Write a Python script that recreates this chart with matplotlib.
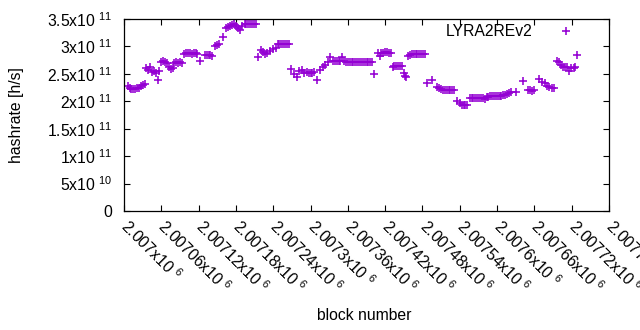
import matplotlib
matplotlib.use('Agg')
import matplotlib.pyplot as plt
import numpy as np
from matplotlib.ticker import FixedLocator, FixedFormatter

plt.rcParams['font.family'] = ['Liberation Sans', 'DejaVu Sans']
plt.rcParams['mathtext.fontset'] = 'custom'
plt.rcParams['mathtext.rm'] = 'Liberation Sans'
plt.rcParams['mathtext.it'] = 'Liberation Sans:italic'
plt.rcParams['mathtext.default'] = 'regular'

series_name = 'LYRA2REv2'

block_number = [
    2007006, 2007009, 2007012, 2007015, 2007018, 2007021, 2007024, 2007027, 2007030, 2007033,
    2007036, 2007039, 2007042, 2007045, 2007048, 2007051, 2007054, 2007057, 2007060, 2007063,
    2007066, 2007069, 2007072, 2007075, 2007078, 2007081, 2007084, 2007087, 2007090, 2007093,
    2007097, 2007100, 2007103, 2007106, 2007109, 2007112, 2007115, 2007118, 2007123, 2007130,
    2007133, 2007136, 2007139, 2007142, 2007147, 2007150, 2007153, 2007159, 2007164, 2007168,
    2007171, 2007174, 2007177, 2007180, 2007183, 2007186, 2007190, 2007194, 2007197, 2007200,
    2007203, 2007206, 2007209, 2007212, 2007215, 2007221, 2007224, 2007227, 2007230, 2007235,
    2007239, 2007244, 2007247, 2007250, 2007253, 2007256, 2007259, 2007262, 2007265, 2007269,
    2007274, 2007278, 2007282, 2007286, 2007290, 2007294, 2007297, 2007300, 2007303, 2007306,
    2007310, 2007316, 2007320, 2007324, 2007328, 2007331, 2007336, 2007339, 2007342, 2007345,
    2007348, 2007351, 2007354, 2007357, 2007360, 2007363, 2007366, 2007369, 2007372, 2007375,
    2007378, 2007381, 2007384, 2007387, 2007390, 2007393, 2007396, 2007399, 2007402, 2007408,
    2007411, 2007414, 2007417, 2007420, 2007423, 2007426, 2007429, 2007432, 2007435, 2007438,
    2007441, 2007444, 2007447, 2007451, 2007452, 2007453, 2007457, 2007460, 2007463, 2007466,
    2007469, 2007472, 2007475, 2007478, 2007481, 2007484, 2007488, 2007495, 2007503, 2007507,
    2007510, 2007513, 2007516, 2007519, 2007522, 2007525, 2007528, 2007531, 2007535, 2007540,
    2007543, 2007546, 2007549, 2007552, 2007556, 2007559, 2007562, 2007565, 2007568, 2007571,
    2007574, 2007577, 2007580, 2007583, 2007586, 2007589, 2007592, 2007595, 2007598, 2007601,
    2007604, 2007607, 2007610, 2007613, 2007616, 2007619, 2007622, 2007631, 2007641, 2007650,
    2007653, 2007656, 2007660, 2007668, 2007673, 2007677, 2007680, 2007684, 2007688, 2007691,
    2007696, 2007700, 2007703, 2007706, 2007709, 2007712, 2007715, 2007719, 2007723, 2007726,
    2007729,
]

# hashrate in units of 1e11 h/s
hashrate_e11 = [
    2.27, 2.24, 2.23, 2.22, 2.23, 2.24, 2.25, 2.27, 2.30, 2.32,
    2.60, 2.57, 2.63, 2.53, 2.56, 2.52, 2.39, 2.55, 2.71, 2.73,
    2.72, 2.70, 2.62, 2.58, 2.60, 2.70, 2.72, 2.70, 2.71, 2.69,
    2.87, 2.88, 2.88, 2.88, 2.87, 2.88, 2.88, 2.87, 2.73, 2.84,
    2.85, 2.84, 2.84, 2.83, 3.00, 3.03, 3.05, 3.17, 3.33, 3.36,
    3.38, 3.39, 3.40, 3.38, 3.34, 3.30, 3.37, 3.40, 3.41, 3.41,
    3.41, 3.41, 3.41, 3.41, 2.81, 2.93, 2.89, 2.87, 2.88, 2.91,
    2.95, 2.98, 3.04, 3.05, 3.05, 3.05, 3.04, 3.05, 3.05, 2.58,
    2.50, 2.45, 2.55, 2.57, 2.51, 2.53, 2.52, 2.52, 2.52, 2.53,
    2.39, 2.57, 2.62, 2.66, 2.72, 2.80, 2.73, 2.74, 2.73, 2.73,
    2.74, 2.80, 2.73, 2.72, 2.72, 2.71, 2.71, 2.72, 2.71, 2.71,
    2.71, 2.71, 2.71, 2.71, 2.71, 2.71, 2.71, 2.71, 2.50, 2.88,
    2.82, 2.88, 2.88, 2.89, 2.89, 2.88, 2.88, 2.62, 2.64, 2.65,
    2.65, 2.65, 2.65, 2.52, 2.47, 2.44, 2.82, 2.84, 2.86, 2.87,
    2.87, 2.87, 2.87, 2.87, 2.87, 2.87, 2.33, 2.38, 2.26, 2.24,
    2.22, 2.21, 2.21, 2.21, 2.21, 2.21, 2.21, 2.21, 2.00, 1.96,
    1.94, 1.93, 1.93, 1.93, 2.06, 2.06, 2.06, 2.06, 2.06, 2.06,
    2.06, 2.06, 2.05, 2.07, 2.08, 2.09, 2.09, 2.09, 2.09, 2.09,
    2.09, 2.10, 2.12, 2.12, 2.14, 2.16, 2.17, 2.17, 2.37, 2.20,
    2.20, 2.19, 2.20, 2.40, 2.36, 2.33, 2.28, 2.26, 2.24, 2.24,
    2.74, 2.72, 2.66, 2.63, 2.63, 2.62, 2.55, 2.60, 2.61, 2.63,
    2.84,
]

xtick_values = [2007000, 2007060, 2007120, 2007180, 2007240, 2007300, 2007360,
                2007420, 2007480, 2007540, 2007600, 2007660, 2007720, 2007780]
xtick_labels = ['2.007x10 $^{6}$', '2.00706x10 $^{6}$', '2.00712x10 $^{6}$',
                '2.00718x10 $^{6}$', '2.00724x10 $^{6}$', '2.0073x10 $^{6}$',
                '2.00736x10 $^{6}$', '2.00742x10 $^{6}$', '2.00748x10 $^{6}$',
                '2.00754x10 $^{6}$', '2.0076x10 $^{6}$', '2.00766x10 $^{6}$',
                '2.00772x10 $^{6}$', '2.00778x10 $^{6}$']
ytick_values = [0, 5e10, 1e11, 1.5e11, 2e11, 2.5e11, 3e11, 3.5e11]
ytick_labels = ['0', '5x10 $^{10}$', '1x10 $^{11}$', '1.5x10 $^{11}$', '2x10 $^{11}$',
                '2.5x10 $^{11}$', '3x10 $^{11}$', '3.5x10 $^{11}$']

FS = 11.3
color = '#9400d3'

fig = plt.figure(figsize=(6.4, 3.3), dpi=100)
ax = fig.add_axes([124 / 640, 119 / 330, 485 / 640, 192 / 330])

hashrate = np.array(hashrate_e11) * 1e11
ax.plot(block_number, hashrate, linestyle='none', marker='+', ms=6.4, mew=1.15,
        color=color, label=series_name)

ax.set_xlim(2007000, 2007780)
ax.set_ylim(0, 3.5e11)

ax.xaxis.set_major_locator(FixedLocator(xtick_values))
ax.xaxis.set_major_formatter(FixedFormatter(xtick_labels))
ax.yaxis.set_major_locator(FixedLocator(ytick_values))
ax.yaxis.set_major_formatter(FixedFormatter(ytick_labels))
ax.minorticks_off()

ax.tick_params(axis='both', direction='in', length=4.3, width=0.8, top=True, right=True,
               labelsize=FS, colors='black')
ax.tick_params(axis='y', pad=8.5)
ax.tick_params(axis='x', pad=9)
for lab in ax.get_xticklabels():
    lab.set_rotation(-45)
    lab.set_ha('left')
    lab.set_va('center')
    lab.set_rotation_mode('anchor')

for s in ax.spines.values():
    s.set_linewidth(0.9)
    s.set_color('black')

fig.text(17 / 640, 1 - 115 / 330, 'hashrate [h/s]', rotation=90, ha='center', va='center',
         fontsize=FS)
fig.text(364 / 640, 1 - 316 / 330, 'block number', ha='center', va='center', fontsize=FS)

ax.legend(loc='center right', bbox_to_anchor=(582 / 640, 1 - 32 / 330),
          bbox_transform=fig.transFigure, frameon=False, markerfirst=False,
          borderpad=0, borderaxespad=0, handlelength=2.0, handletextpad=1.15,
          fontsize=FS)

fig.savefig('out.png', dpi=100)
